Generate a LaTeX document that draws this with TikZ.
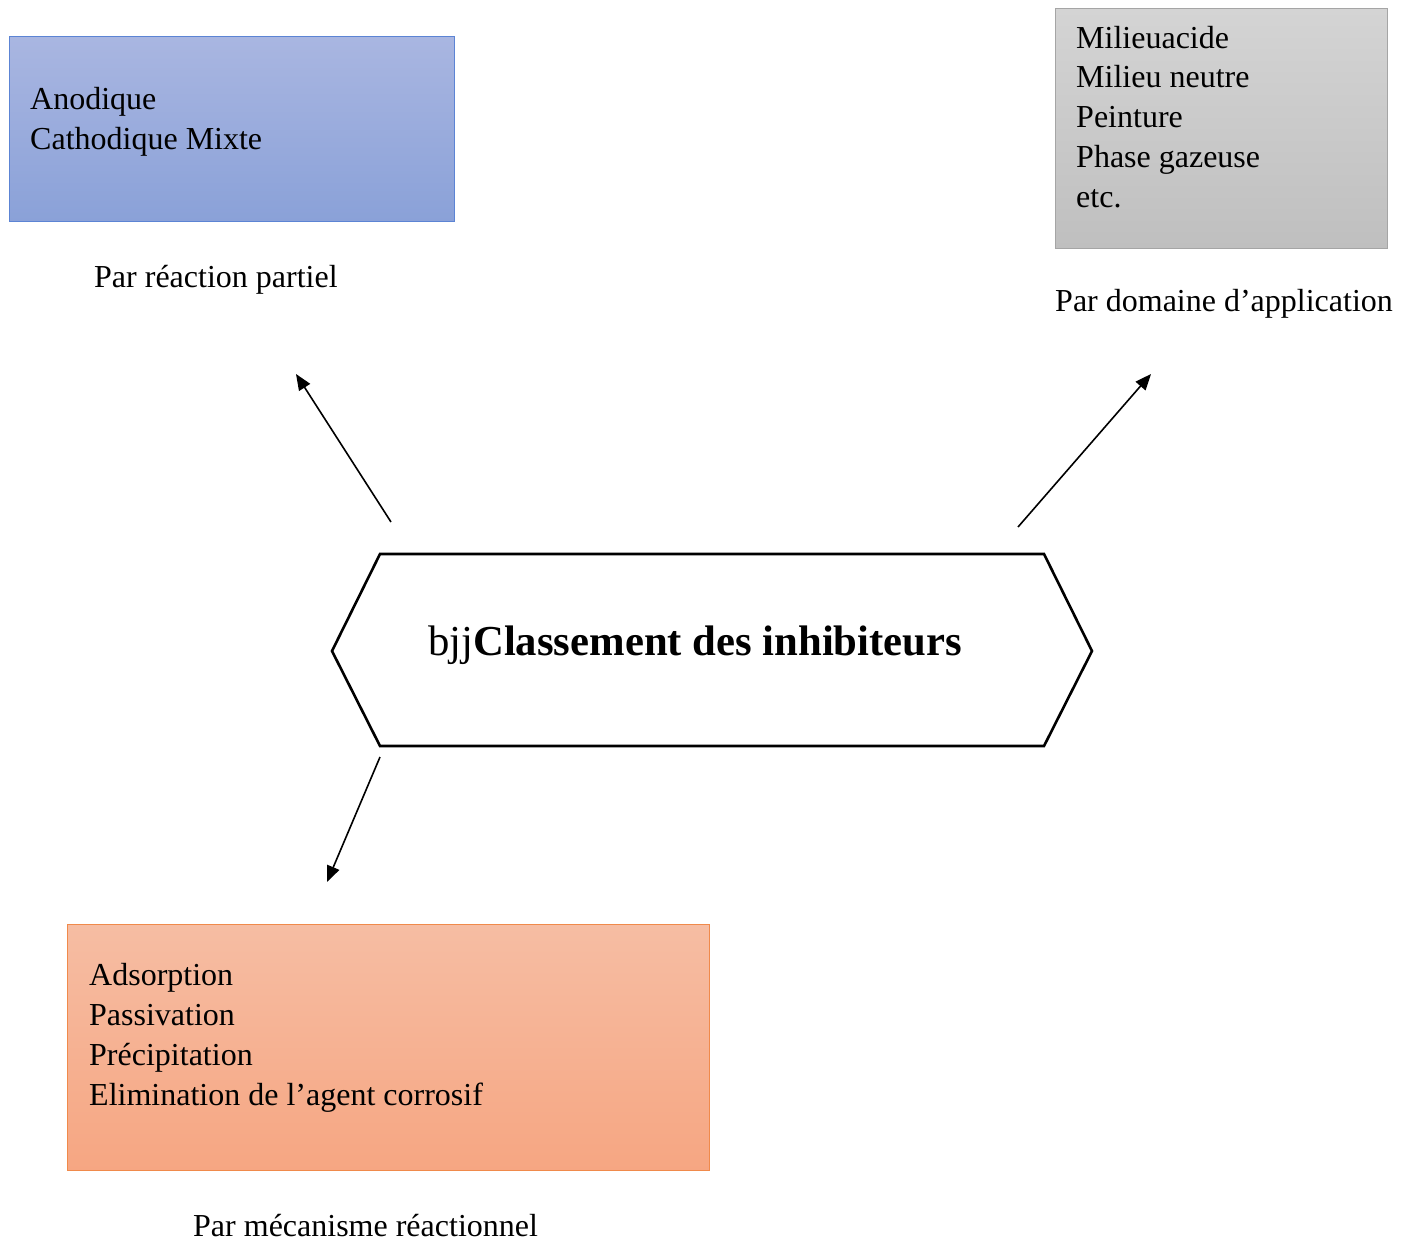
\documentclass[tikz,border=0pt]{standalone}
\usepackage{fontspec}
\setmainfont{Liberation Serif}
\usetikzlibrary{arrows.meta}
\definecolor{bluetop}{RGB}{169,182,225}
\definecolor{bluebot}{RGB}{138,161,216}
\definecolor{blueline}{RGB}{92,132,212}
\definecolor{graytop}{RGB}{212,212,212}
\definecolor{graybot}{RGB}{191,191,191}
\definecolor{grayline}{RGB}{165,165,165}
\definecolor{orgtop}{RGB}{246,189,163}
\definecolor{orgbot}{RGB}{246,166,130}
\definecolor{orgline}{RGB}{240,138,75}
\begin{document}
\begin{tikzpicture}[x=1pt,y=-1pt,
  box/.style={draw, line width=1.4pt, anchor=north west, inner sep=0pt},
  boxtext/.style={anchor=base west, inner sep=0pt, align=left, font=\fontsize{32}{39.7}\selectfont},
  caption/.style={anchor=base west, inner sep=0pt, font=\fontsize{32}{40}\selectfont},
  conn/.style={line width=1.6pt, -{Triangle[length=16pt,width=13pt]}}
]
\useasboundingbox (0,0) rectangle (1404,1239);
\fill[white] (0,0) rectangle (1404,1239);

% blue box
\node[box, draw=blueline, top color=bluetop, bottom color=bluebot,
      minimum width=445pt, minimum height=185pt] (reac) at (9,36) {};
\node[boxtext] (reactxt) at (30,149) {Anodique\\Cathodique Mixte};
\node[caption] (reaccap) at (94,287) {Par réaction partiel};

% gray box
\node[box, draw=grayline, top color=graytop, bottom color=graybot,
      minimum width=332pt, minimum height=240pt] (dom) at (1055,8) {};
\node[boxtext] (domtxt) at (1076,207) {Milieuacide\\Milieu neutre\\Peinture\\Phase gazeuse\\etc.};
\node[caption] (domcap) at (1055,311) {Par domaine d’application};

% orange box
\node[box, draw=orgline, top color=orgtop, bottom color=orgbot,
      minimum width=642pt, minimum height=246pt] (meca) at (67,924) {};
\node[boxtext] (mecatxt) at (89,1105) {Adsorption\\Passivation\\Précipitation\\Elimination de l’agent corrosif};
\node[caption] (mecacap) at (193,1236) {Par mécanisme réactionnel};

% central hexagon
\draw[line width=2.6pt, line join=miter] (332,651) -- (380,554) -- (1044,554) -- (1092,651) -- (1044,746) -- (380,746) -- cycle;
\coordinate (hex) at (712,650);
\node[anchor=base west, inner sep=0pt, font=\fontsize{42.7}{50}\selectfont] (title) at (428,655) {bjj\textbf{Classement des inhibiteurs}};

% connectors
\coordinate (s1) at (391,522);
\coordinate (e1) at (296,374);
\coordinate (s2) at (1018,527);
\coordinate (e2) at (1151,374);
\coordinate (s3) at (380,757);
\coordinate (e3) at (327,882);
\draw[conn] (s1) -- (e1);
\draw[conn] (s2) -- (e2);
\draw[conn] (s3) -- (e3);
\end{tikzpicture}
\end{document}
